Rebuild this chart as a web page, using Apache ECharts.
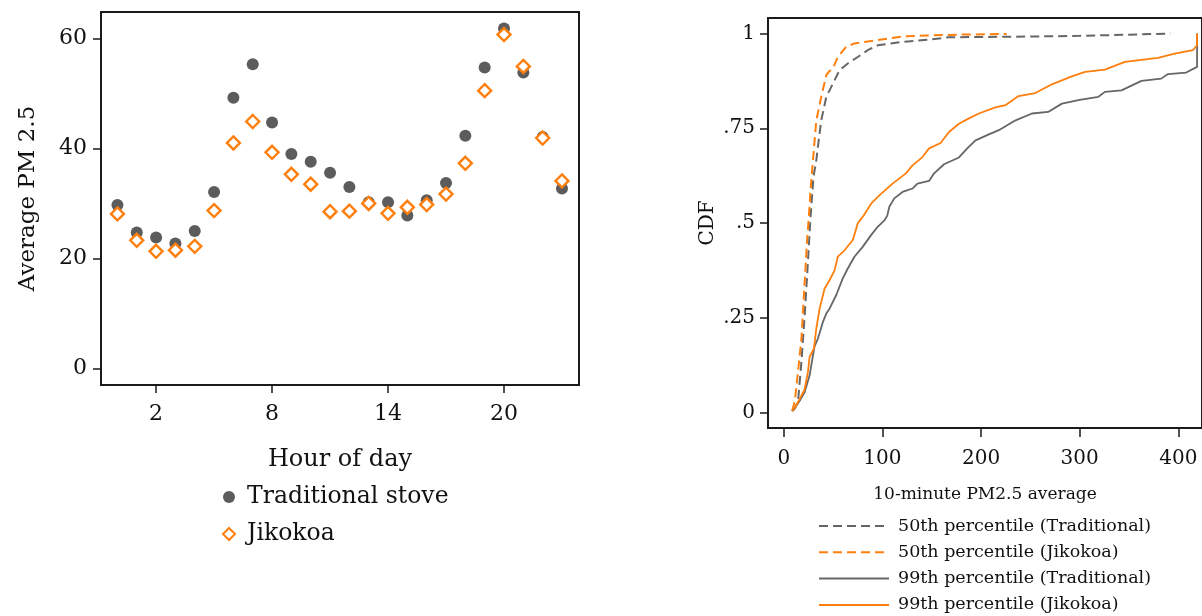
<!DOCTYPE html>
<html>
<head>
<meta charset="utf-8">
<script src="https://cdn.jsdelivr.net/npm/echarts@6/dist/echarts.min.js"></script>
<style>
html,body{margin:0;padding:0;background:#fff;}
#chart{width:1202px;height:616px;}
</style>
</head>
<body>
<div id="chart"></div>
<script>
// ---- Left panel: hourly averages ----
const hours = [0,1,2,3,4,5,6,7,8,9,10,11,12,13,14,15,16,17,18,19,20,21,22,23];
const traditionalPM = [29.7,24.7,23.8,22.7,25.0,32.1,49.2,55.3,44.7,39.0,37.6,35.6,33.0,30.2,30.2,27.8,30.6,33.7,42.3,54.7,61.8,53.8,42.1,32.7];
const jikokoaPM = [28.1,23.3,21.3,21.5,22.2,28.7,41.0,44.9,39.3,35.3,33.5,28.5,28.6,30.0,28.2,29.3,29.8,31.7,37.3,50.5,60.7,54.9,41.9,34.1];
const hourTicks = [2,8,14,20];
const pmTicks = [0,20,40,60];

// ---- Right panel: CDFs of 10-minute PM2.5 averages ----
const trad50X = [8.5,11,14.4,17.9,21.2,24.5,26.9,30,33,35.5,38,43.1,49.8,56.5,64.9,75,85.1,95.2,117,150,167,200,250,300,350,392];
const trad50Y = [0.004,0.01,0.028,0.134,0.257,0.398,0.507,0.62,0.666,0.72,0.771,0.833,0.868,0.903,0.921,0.938,0.956,0.969,0.977,0.985,0.99,0.991,0.992,0.994,0.997,1.0];
const jik50X = [8.5,11.1,14.4,17.9,21.2,23.5,25.5,27.5,29.6,33,38,43.1,46,49.8,54.8,63.3,71.6,88.5,122,177,226];
const jik50Y = [0.004,0.028,0.107,0.195,0.345,0.45,0.52,0.6,0.666,0.771,0.833,0.89,0.9,0.908,0.938,0.965,0.974,0.98,0.993,0.997,0.999];
const trad99X = [8.5,11.1,16,21.2,26.2,29.6,31.3,34.6,39.7,43.1,46.4,53.2,59.8,64.9,71.6,80,88.5,95.2,102,105,107,112,120.4,130.5,135.5,147.3,152.4,162.5,177.6,186,194.4,207.9,218,235,251.6,268,282,300,319,325.6,342.4,362.6,382.7,389.5,408,419,419];
const trad99Y = [0.004,0.011,0.03,0.054,0.098,0.151,0.175,0.195,0.239,0.261,0.274,0.31,0.354,0.38,0.411,0.437,0.468,0.49,0.507,0.52,0.543,0.565,0.582,0.591,0.604,0.611,0.631,0.655,0.673,0.697,0.718,0.734,0.745,0.771,0.789,0.793,0.815,0.825,0.833,0.846,0.85,0.875,0.881,0.893,0.897,0.912,1.0];
const jik99X = [8.5,12,16,21,24.5,26.2,30.6,33,36.3,41.4,46.4,51.5,54.8,61.6,70,75,81,88.5,96.9,110.3,123.8,130.5,140.6,147.3,159,167.5,177.6,187.7,197.8,214.6,224.7,238,255,271.8,292,305.5,325.6,345.8,379.4,396.3,414.8,419,419];
const jik99Y = [0.004,0.015,0.035,0.06,0.107,0.147,0.169,0.222,0.274,0.327,0.349,0.375,0.411,0.428,0.455,0.499,0.52,0.551,0.573,0.604,0.631,0.652,0.674,0.697,0.711,0.74,0.762,0.776,0.789,0.805,0.811,0.835,0.843,0.866,0.887,0.899,0.905,0.925,0.936,0.947,0.956,0.969,1.0];
const pmAvgTicks = [0,100,200,300,400];
const cdfTicks = [0,0.25,0.5,0.75,1];
const cdfTickLabels = ['0','.25','.5','.75','1'];

const FONT = 'DejaVu Serif';
const GRAY = '#5c5c5c';
const LGRAY = '#666666';
const ORANGE = '#ff7f0e';
const AX = '#1a1a1a';

function zip(xs, ys){ return xs.map((x,i)=>[x, ys[i]]); }

const chart = echarts.init(document.getElementById('chart'), null, {renderer:'canvas'});

const tickStyle = {lineStyle:{color:AX,width:1.5}};

chart.setOption({
  animation:false,
  backgroundColor:'#fff',
  textStyle:{fontFamily:FONT,color:'#111'},
  grid:[
    {left:101, top:12, width:478, height:373, show:true, borderColor:AX, borderWidth:2, backgroundColor:'transparent'},
    {left:768, top:18, width:436, height:410, show:true, borderColor:AX, borderWidth:2, backgroundColor:'transparent'}
  ],
  xAxis:[
    {gridIndex:0, type:'value', min:-0.85, max:23.88,
     axisLine:{show:false, onZero:false}, splitLine:{show:false},
     axisTick:{show:true, length:8, customValues:hourTicks, ...tickStyle},
     axisLabel:{customValues:hourTicks, fontFamily:FONT, fontSize:22, color:'#111', margin:18},
     name:'Hour of day', nameLocation:'middle', nameGap:63,
     nameTextStyle:{fontFamily:FONT, fontSize:24, color:'#111'}},
    {gridIndex:1, type:'value', min:-16, max:424,
     axisLine:{show:false, onZero:false}, splitLine:{show:false},
     axisTick:{show:true, length:9, customValues:pmAvgTicks, ...tickStyle},
     axisLabel:{customValues:pmAvgTicks, fontFamily:FONT, fontSize:20, color:'#111', margin:21},
     name:'10-minute PM2.5 average', nameLocation:'middle', nameGap:58,
     nameTextStyle:{fontFamily:FONT, fontSize:17, color:'#111'}}
  ],
  yAxis:[
    {gridIndex:0, type:'value', min:-3.0, max:64.8,
     axisLine:{show:false, onZero:false}, splitLine:{show:false},
     axisTick:{show:true, length:8, customValues:pmTicks, ...tickStyle},
     axisLabel:{customValues:pmTicks, fontFamily:FONT, fontSize:22, color:'#111', margin:14},
     name:'Average PM 2.5', nameLocation:'middle', nameGap:61, nameRotate:90,
     nameTextStyle:{fontFamily:FONT, fontSize:23, color:'#111'}},
    {gridIndex:1, type:'value', min:-0.041, max:1.041,
     axisLine:{show:false, onZero:false}, splitLine:{show:false},
     axisTick:{show:true, length:8, customValues:cdfTicks, ...tickStyle},
     axisLabel:{customValues:cdfTicks, fontFamily:FONT, fontSize:20, color:'#111', margin:13,
       formatter:function(v){ const i = cdfTicks.indexOf(v); return i>=0 ? cdfTickLabels[i] : ''; }},
     name:'CDF', nameLocation:'middle', nameGap:50, nameRotate:90,
     nameTextStyle:{fontFamily:FONT, fontSize:20, color:'#111'}}
  ],
  legend:[
    {left:222, top:482, orient:'vertical', padding:0, itemWidth:12, itemHeight:12, itemGap:7,
     data:['Traditional stove','Jikokoa'],
     textStyle:{fontFamily:FONT, fontSize:23.5, color:'#111', lineHeight:30, padding:[0,0,0,7]}},
    {left:818, top:516, orient:'vertical', padding:0, itemWidth:70, itemHeight:14, itemGap:6.3,
     itemStyle:{opacity:0},
     data:['50th percentile (Traditional)','50th percentile (Jikokoa)','99th percentile (Traditional)','99th percentile (Jikokoa)'],
     textStyle:{fontFamily:FONT, fontSize:17.5, color:'#111', lineHeight:20, padding:[0,0,0,4]}}
  ],
  series:[
    {name:'Traditional stove', type:'scatter', xAxisIndex:0, yAxisIndex:0,
     symbol:'circle', symbolSize:12, itemStyle:{color:GRAY, opacity:1},
     data:zip(hours, traditionalPM)},
    {name:'Jikokoa', type:'scatter', xAxisIndex:0, yAxisIndex:0,
     symbol:'diamond', symbolSize:13, itemStyle:{color:'#fff', borderColor:ORANGE, borderWidth:2.4, opacity:1},
     data:zip(hours, jikokoaPM)},
    {name:'50th percentile (Traditional)', type:'line', xAxisIndex:1, yAxisIndex:1,
     symbol:'none', lineStyle:{color:LGRAY, width:2, type:[9,5]}, itemStyle:{color:LGRAY},
     data:zip(trad50X, trad50Y)},
    {name:'50th percentile (Jikokoa)', type:'line', xAxisIndex:1, yAxisIndex:1,
     symbol:'none', lineStyle:{color:ORANGE, width:2, type:[9,5]}, itemStyle:{color:ORANGE},
     data:zip(jik50X, jik50Y)},
    {name:'99th percentile (Traditional)', type:'line', xAxisIndex:1, yAxisIndex:1,
     symbol:'none', lineStyle:{color:LGRAY, width:1.8}, itemStyle:{color:LGRAY},
     data:zip(trad99X, trad99Y)},
    {name:'99th percentile (Jikokoa)', type:'line', xAxisIndex:1, yAxisIndex:1,
     symbol:'none', lineStyle:{color:ORANGE, width:1.8}, itemStyle:{color:ORANGE},
     data:zip(jik99X, jik99Y)}
  ]
});
</script>
</body>
</html>
